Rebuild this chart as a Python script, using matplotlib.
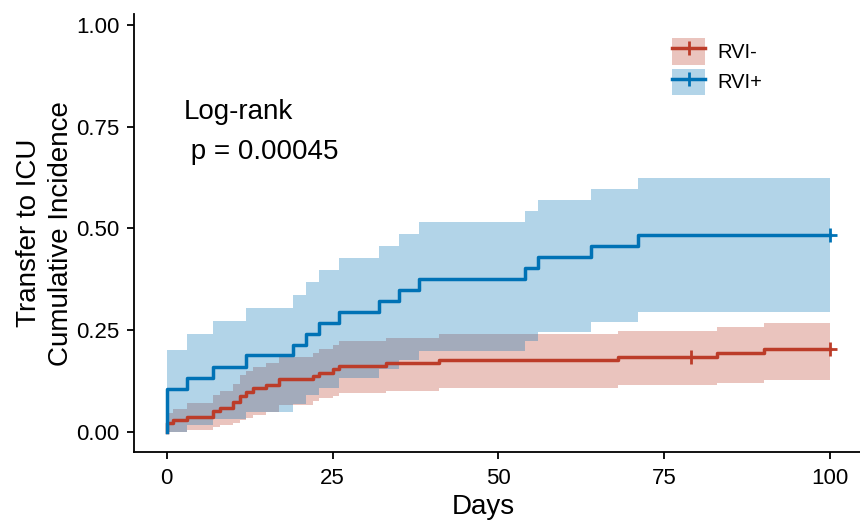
import numpy as np
import matplotlib
matplotlib.use("Agg")
import matplotlib.pyplot as plt
from matplotlib.patches import Patch
from matplotlib.lines import Line2D

plt.rcParams['font.family'] = ['Liberation Sans', 'DejaVu Sans']

# ---------------- data ----------------
END_DAY = 100

# RVI+ (blue)
pos_time = [0, 3, 7, 12, 19, 21, 23, 26, 32, 35, 38, 54, 56, 64, 71]
pos_est = [0.105, 0.132, 0.160, 0.189, 0.214, 0.241, 0.267, 0.294, 0.322,
           0.350, 0.377, 0.403, 0.430, 0.457, 0.484]
pos_upper = [0.201, 0.240, 0.272, 0.305, 0.336, 0.368, 0.398, 0.427, 0.457,
             0.487, 0.516, 0.543, 0.570, 0.597, 0.624]
pos_lower = [0.0, 0.016, 0.033, 0.050, 0.068, 0.090, 0.109, 0.132, 0.154,
             0.176, 0.198, 0.223, 0.245, 0.270, 0.294]
pos_censor = [100]

# RVI- (red)
neg_time = [0, 1, 3, 7, 8, 10, 11, 12, 13, 15, 17, 22, 23, 25, 26, 33, 41,
            68, 83, 90]
neg_est = [0.021, 0.029, 0.036, 0.052, 0.059, 0.073, 0.088, 0.097, 0.108,
           0.116, 0.130, 0.138, 0.145, 0.155, 0.162, 0.170, 0.177, 0.185,
           0.193, 0.203]
neg_upper = [0.047, 0.057, 0.071, 0.090, 0.100, 0.119, 0.139, 0.149, 0.160,
             0.170, 0.183, 0.195, 0.203, 0.213, 0.223, 0.230, 0.240, 0.248,
             0.257, 0.267]
neg_lower = [0.0, 0.0, 0.004, 0.011, 0.016, 0.022, 0.029, 0.035, 0.041,
             0.050, 0.065, 0.075, 0.084, 0.088, 0.096, 0.100, 0.108, 0.115,
             0.120, 0.127]
neg_censor = [79, 100]

groups = ['RVI-', 'RVI+']
colors = {'RVI-': '#BC3C29', 'RVI+': '#0072B5'}

x_ticks = [0, 25, 50, 75, 100]
y_ticks = [0.00, 0.25, 0.50, 0.75, 1.00]
y_ticklabels = ['0.00', '0.25', '0.50', '0.75', '1.00']


def extend(t, v):
    # add the last value at end of follow-up so the step reaches day 100
    return list(t) + [END_DAY], list(v) + [v[-1]]


def value_at(t, v, x):
    idx = np.searchsorted(t, x, side='right') - 1
    return np.asarray(v)[idx]


# panel in pixels: x from 133.5 to 863.2, y from 14 to 452.3
W, H = 860, 527
px_l, px_r, py_t, py_b = 133.5, 863.2, 14, 452.3
fig = plt.figure(figsize=(W / 100, H / 100), dpi=100)
ax = fig.add_axes([px_l / W, (H - py_b) / H, (px_r - px_l) / W,
                   (py_b - py_t) / H])

series = {
    'RVI-': (neg_time, neg_est, neg_lower, neg_upper, neg_censor),
    'RVI+': (pos_time, pos_est, pos_lower, pos_upper, pos_censor),
}

for g in groups:
    t, est, lo, hi, cens = series[g]
    c = colors[g]
    tt, ee = extend(t, est)
    _, ll = extend(t, lo)
    _, hh = extend(t, hi)
    ax.fill_between(tt, ll, hh, step='post', color=c, alpha=0.3, lw=0)
    ax.step([0] + tt, [0] + ee, where='post', color=c, lw=2.5)
    ax.plot(cens, value_at(tt, ee, np.array(cens) - 1e-9), ls='none',
            marker='+', ms=10, mew=2, color=c)

ax.text(2.5, 0.818, 'Log-rank\n p = 0.00045', fontsize=20, ha='left',
        va='top', linespacing=1.7)

ax.set_xlim(-5, 105)
ax.set_ylim(-0.05, 1.027)
ax.set_xticks(x_ticks)
ax.set_yticks(y_ticks)
ax.set_yticklabels(y_ticklabels)
ax.tick_params(labelsize=16, length=5, width=1.3, color='black',
               labelcolor='black')
ax.tick_params(axis='x', pad=6)
ax.tick_params(axis='y', pad=5)
for s in ['top', 'right']:
    ax.spines[s].set_visible(False)
for s in ['left', 'bottom']:
    ax.spines[s].set_linewidth(1.3)

ax.set_xlabel('Days', fontsize=20)
ax.xaxis.set_label_coords((483 - px_l) / (px_r - px_l),
                          -(494 - py_b) / (py_b - py_t))
ax.set_ylabel('Transfer to ICU\nCumulative Incidence', fontsize=20,
              linespacing=1.3)
ax.yaxis.set_label_coords(-0.082, 0.5)

handles = []
for g in groups:
    c = colors[g]
    handles.append((Patch(facecolor=c, alpha=0.3, lw=0),
                    Line2D([], [], color=c, lw=2.5, marker='+', ms=10,
                           mew=2)))
ax.legend(handles, groups, loc='upper left',
          bbox_to_anchor=((664 - px_l) / (px_r - px_l),
                          (py_b - 30) / (py_b - py_t)),
          fontsize=14.5, frameon=False, handlelength=1.65, handleheight=1.65,
          handletextpad=0.6, labelspacing=0.2, borderaxespad=0)

fig.savefig('out.png', dpi=100)
